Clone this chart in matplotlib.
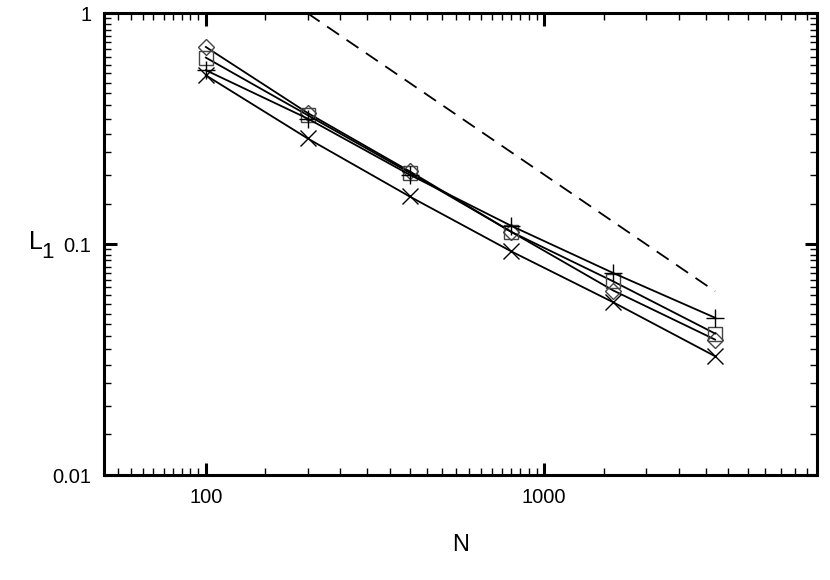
import numpy as np
import matplotlib
matplotlib.use("Agg")
import matplotlib.pyplot as plt
from matplotlib.ticker import LogLocator, FixedLocator, NullFormatter

plt.rcParams["font.family"] = ["Liberation Sans", "DejaVu Sans"]

# data
N = [100, 200, 400, 800, 1600, 3200]
L1_diamond = [0.715, 0.37, 0.207, 0.113, 0.063, 0.0386]
L1_square = [0.643, 0.362, 0.204, 0.113, 0.069, 0.041]
L1_plus = [0.567, 0.35, 0.200, 0.120, 0.075, 0.048]
L1_cross = [0.539, 0.287, 0.161, 0.093, 0.056, 0.0327]

# first order reference slope
N_ref = [200, 3200]
L1_ref = [1.0, 0.0625]

fig = plt.figure(figsize=(8.3, 5.8), dpi=100)
ax = fig.add_axes([0.1253, 0.181, 0.8590, 0.796])

ax.plot(N, L1_diamond, color="black", lw=1.3, marker="D", ms=8,
        mfc="none", mec="#444444", mew=1.0)
ax.plot(N, L1_square, color="black", lw=1.3, marker="s", ms=10,
        mfc="none", mec="#444444", mew=1.0)
ax.plot(N, L1_plus, color="black", lw=1.3, marker="+", ms=13, mew=1.0)
ax.plot(N, L1_cross, color="black", lw=1.3, marker="x", ms=11, mew=1.0)
ax.plot(N_ref, L1_ref, color="black", lw=1.3, ls=(0, (8, 5)))

ax.set_xscale("log")
ax.set_yscale("log")
ax.set_xlim(50, 6400)
ax.set_ylim(0.01, 1)

subs = np.arange(1.5, 10, 0.5)
ax.xaxis.set_major_locator(FixedLocator([100, 1000]))
ax.xaxis.set_minor_locator(LogLocator(base=10, subs=subs, numticks=20))
ax.yaxis.set_major_locator(FixedLocator([0.01, 0.1, 1]))
ax.yaxis.set_minor_locator(LogLocator(base=10, subs=subs, numticks=20))
ax.xaxis.set_minor_formatter(NullFormatter())
ax.yaxis.set_minor_formatter(NullFormatter())
ax.set_xticklabels(["100", "1000"])
ax.set_yticklabels(["0.01", "0.1", "1"])

for s in ax.spines.values():
    s.set_linewidth(2.2)
ax.tick_params(which="major", direction="in", length=9, width=2.2,
               top=True, right=True, labelsize=14.5, pad=9)
ax.tick_params(which="minor", direction="in", length=5, width=1.0,
               top=True, right=True)

ax.set_xlabel("N", fontsize=17, labelpad=20)

# y label "L" with a large subscript "1"
fig.text(36 / 830, 1 - 242 / 580, "L", fontsize=18, ha="center", va="center")
fig.text(47 / 830, 1 - 253 / 580, "1", fontsize=16, ha="center", va="center")

fig.savefig("out.png", dpi=100)
